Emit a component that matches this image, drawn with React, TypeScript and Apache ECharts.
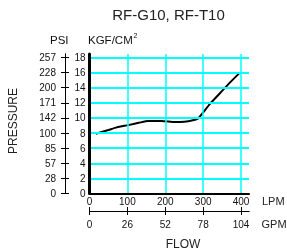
import React, { useEffect, useRef } from "react";
import * as echarts from "echarts";

const flowLPM = [17, 50, 72, 102, 130, 155, 190, 226, 250, 270, 287, 298, 318, 345, 371, 397];
const pressureKgf = [7.9, 8.4, 8.75, 9.05, 9.35, 9.6, 9.6, 9.45, 9.5, 9.65, 9.95, 10.6, 11.85, 13.3, 14.7, 16.0];

const kgfTicks = [0, 2, 4, 6, 8, 10, 12, 14, 16, 18];
const psiLabels = ["0", "28", "57", "85", "100", "142", "171", "200", "228", "257"];
const lpmTicks = [0, 100, 200, 300, 400];
const gpmLabels = ["0", "26", "52", "78", "104"];

const FONT = "Liberation Sans, Arial, sans-serif";

export default function App() {
  const ref = useRef<HTMLDivElement>(null);
  useEffect(() => {
    if (!ref.current) return;
    const chart = echarts.init(ref.current, undefined, { renderer: "svg" });
    const X_MAX = 421;
    const Y_MAX = 18.46;
    const labelStyle = { color: "#111", fontSize: 10, fontFamily: FONT };
    const baseX = { type: "value", min: 0, max: X_MAX, splitLine: { show: false }, z: 10 };
    const baseY = { type: "value", min: 0, max: Y_MAX, splitLine: { show: false }, z: 10 };
    const thinLine = { show: true, onZero: false, lineStyle: { color: "#000", width: 1 } };
    chart.setOption({
      animation: false,
      title: {
        text: "RF-G10, RF-T10",
        left: 163.5,
        textAlign: "center",
        top: 2,
        textStyle: { fontSize: 15, fontWeight: "normal", color: "#222", fontFamily: FONT },
      },
      grid: { left: 89.5, right: 38, top: 54, bottom: 58.5, containLabel: false },
      xAxis: [
        {
          ...baseX,
          position: "bottom",
          axisLine: { show: true, onZero: false, lineStyle: { color: "#000", width: 2 } },
          axisTick: { show: false },
          axisLabel: { ...labelStyle, margin: 3, customValues: lpmTicks },
        },
        {
          ...baseX,
          position: "bottom",
          offset: 17.5,
          axisLine: thinLine,
          axisTick: { show: true, length: 4, lineStyle: { color: "#000", width: 1 }, customValues: lpmTicks },
          axisLabel: {
            ...labelStyle,
            margin: 8,
            customValues: lpmTicks,
            formatter: (v: number) => gpmLabels[lpmTicks.indexOf(v)] ?? "",
          },
        },
        {
          ...baseX,
          position: "bottom",
          offset: 17.5,
          axisLine: thinLine,
          axisTick: { show: true, inside: true, length: 4, lineStyle: { color: "#000", width: 1 }, customValues: lpmTicks },
          axisLabel: { show: false },
        },
      ],
      yAxis: [
        {
          ...baseY,
          position: "left",
          axisLine: { show: true, onZero: false, lineStyle: { color: "#000", width: 3 } },
          axisTick: { show: false },
          axisLabel: { ...labelStyle, margin: 4, customValues: kgfTicks },
        },
        {
          ...baseY,
          position: "left",
          offset: 24.5,
          axisLine: thinLine,
          axisTick: { show: true, length: 4, lineStyle: { color: "#000", width: 1 }, customValues: kgfTicks },
          axisLabel: {
            ...labelStyle,
            margin: 9,
            customValues: kgfTicks,
            formatter: (v: number) => psiLabels[kgfTicks.indexOf(v)] ?? "",
          },
        },
        {
          ...baseY,
          position: "left",
          offset: 24.5,
          axisLine: thinLine,
          axisTick: { show: true, inside: true, length: 4, lineStyle: { color: "#000", width: 1 }, customValues: kgfTicks },
          axisLabel: { show: false },
        },
      ],
      graphic: [
        { type: "text", left: 50, top: 34, style: { text: "PSI", fontSize: 11.5, fill: "#111", fontFamily: FONT } },
        { type: "text", left: 88, top: 34, style: { text: "KGF/CM", fontSize: 11.5, fill: "#111", fontFamily: FONT } },
        { type: "text", left: 133.5, top: 32, style: { text: "2", fontSize: 7, fill: "#111", fontFamily: FONT } },
        {
          type: "text",
          x: 13,
          y: 121,
          rotation: Math.PI / 2,
          style: { text: "PRESSURE", fontSize: 12, fill: "#222", fontFamily: FONT, align: "center", verticalAlign: "middle" },
        },
        { type: "text", left: 262, top: 195, style: { text: "LPM", fontSize: 11, fill: "#222", fontFamily: FONT } },
        { type: "text", left: 261.5, top: 218, style: { text: "GPM", fontSize: 11, fill: "#222", fontFamily: FONT } },
        {
          type: "text",
          x: 183,
          y: 244,
          style: { text: "FLOW", fontSize: 12, fill: "#222", fontFamily: FONT, align: "center", verticalAlign: "middle" },
        },
      ],
      series: [
        {
          type: "line",
          xAxisIndex: 0,
          yAxisIndex: 0,
          data: [],
          z: 1,
          silent: true,
          markLine: {
            silent: true,
            symbol: "none",
            label: { show: false },
            data: [
              ...kgfTicks.slice(1).map((v) => ({ yAxis: v, lineStyle: { color: "#00ffff", width: 2, type: "solid" } })),
              ...lpmTicks.slice(1).map((v) => ({ xAxis: v, lineStyle: { color: "#00ffff", width: 1.5, type: "solid" } })),
            ],
          },
        },
        {
          type: "line",
          xAxisIndex: 0,
          yAxisIndex: 0,
          z: 3,
          data: flowLPM.map((f, i) => [f, pressureKgf[i]]),
          smooth: 0.2,
          showSymbol: false,
          lineStyle: { color: "#000", width: 2 },
        },
      ],
    });
    return () => chart.dispose();
  }, []);
  return <div ref={ref} style={{ position: "fixed", left: 0, top: 0, width: 287, height: 252 }} />;
}
